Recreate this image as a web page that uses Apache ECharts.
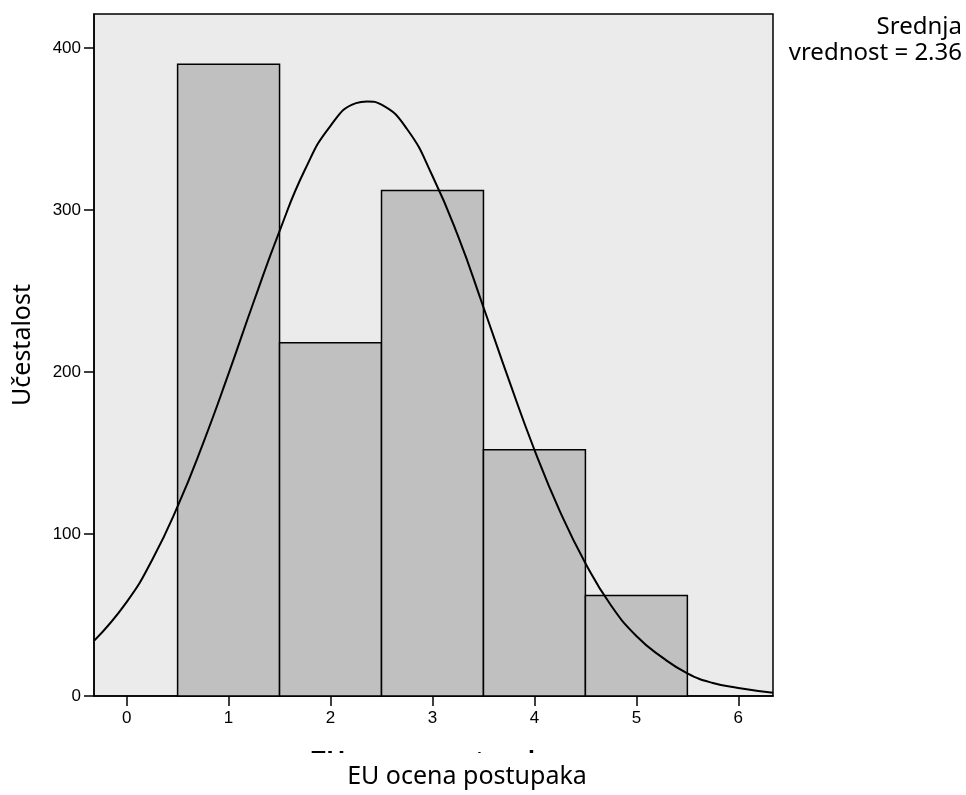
<!DOCTYPE html>
<html>
<head>
<meta charset="utf-8">
<script src="https://cdn.jsdelivr.net/npm/echarts@6/dist/echarts.min.js"></script>
<style>html,body{margin:0;padding:0;background:#fff}#c{width:966px;height:795px}</style>
</head>
<body>
<div id="c"></div>
<script>
// Histogram bins: [start, end]
const binStarts = [0.5, 1.5, 2.5, 3.5, 4.5];
const binEnds   = [1.5, 2.5, 3.5, 4.5, 5.5];
const binCounts = [390, 218, 312, 152, 62];
// Normal curve
const curveX = [-0.32, 0, 0.25, 0.5, 0.75, 1, 1.25, 1.5, 1.75, 2, 2.25, 2.36, 2.5, 2.75, 3, 3.25, 3.5, 3.75, 4, 4.25, 4.5, 4.75, 5, 5.25, 5.5, 5.75, 6, 6.34];
const curveY = [34, 58, 84, 117, 156, 199, 244, 287, 325, 352, 366, 367, 365, 350, 321, 284, 240, 195, 152, 114, 82, 56, 37, 24, 14, 8, 5, 2];
const xTicks = [0, 1, 2, 3, 4, 5, 6];
const yTicks = [0, 100, 200, 300, 400];
const xTitle = 'EU ocena postupaka';
const yTitle = 'Učestalost';
const meanText = 'Srednja\nvrednost = 2.36';

const chart = echarts.init(document.getElementById('c'));
const tickFont = {fontFamily: 'Liberation Sans', fontSize: 17, color: '#000'};
chart.setOption({
  animation: false,
  grid: {left: 94, right: 193, top: 14, bottom: 99, show: true, backgroundColor: '#ebebeb', borderColor: '#000', borderWidth: 1.5},
  xAxis: {
    type: 'value', min: -0.32, max: 6.34,
    splitLine: {show: false},
    axisLine: {show: true, onZero: false, lineStyle: {color: '#000', width: 1.5}},
    axisTick: {show: true, customValues: xTicks, length: 10, lineStyle: {color: '#000', width: 1.5}},
    axisLabel: Object.assign({customValues: xTicks, margin: 14}, tickFont)
  },
  yAxis: {
    type: 'value', min: 0, max: 421,
    splitLine: {show: false},
    axisLine: {show: true, onZero: false, lineStyle: {color: '#000', width: 1.5}},
    axisTick: {show: true, customValues: yTicks, length: 10, lineStyle: {color: '#000', width: 1.5}},
    axisLabel: Object.assign({customValues: yTicks, margin: 13}, tickFont)
  },
  series: [
    {
      type: 'custom',
      data: binCounts.map((c, i) => [binStarts[i], binEnds[i], c]),
      encode: {x: [0, 1], y: 2},
      renderItem: function (params, api) {
        const p0 = api.coord([api.value(0), api.value(2)]);
        const p1 = api.coord([api.value(1), 0]);
        return {
          type: 'rect',
          shape: {x: p0[0], y: p0[1], width: p1[0] - p0[0], height: p1[1] - p0[1]},
          style: {fill: '#c0c0c0', stroke: '#000', lineWidth: 1.5}
        };
      },
      z: 2
    },
    {
      type: 'line',
      data: curveX.map((x, i) => [x, curveY[i]]),
      smooth: 0.5,
      showSymbol: false,
      lineStyle: {color: '#000', width: 2},
      clip: true,
      z: 3
    }
  ],
  graphic: [
    {type: 'text', left: 310, top: 750, style: {text: xTitle, font: 'bold 25px "Liberation Sans"', fill: '#000'}, z: 1},
    {type: 'rect', shape: {x: 250, y: 753, width: 400, height: 42}, style: {fill: '#fff'}, z: 2},
    {type: 'text', x: 467, y: 777, style: {text: xTitle, font: '25px "Noto Sans"', fill: '#000', align: 'center', verticalAlign: 'middle'}, z: 3},
    {type: 'text', x: 23, y: 345, rotation: Math.PI / 2, style: {text: yTitle, font: '25px "Noto Sans"', fill: '#000', align: 'center', verticalAlign: 'middle'}},
    {type: 'text', x: 962, y: 14, style: {text: meanText, font: '24px "Noto Sans"', fill: '#000', align: 'right', verticalAlign: 'top', lineHeight: 26}}
  ]
});
</script>
</body>
</html>
